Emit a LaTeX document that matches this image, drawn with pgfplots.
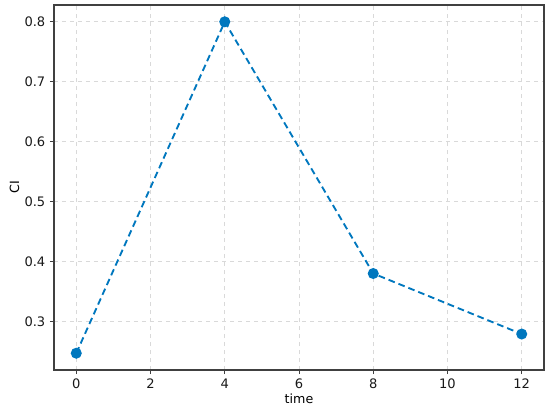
\documentclass[border=0pt]{standalone}
\usepackage{fontspec}
\setmainfont{DejaVu Sans}
\usepackage{pgfplots}
\pgfplotsset{compat=1.18}
\definecolor{lineblue}{RGB}{0,119,190}
\begin{document}
\begin{tikzpicture}
\begin{axis}[
  scale only axis,
  width=367.5pt, height=273.75pt,
  xmin=-0.6, xmax=12.6,
  ymin=0.219, ymax=0.828,
  xtick={0,2,...,12},
  ytick={0.3,0.4,...,0.8},
  yticklabel style={/pgf/number format/.cd,fixed,fixed zerofill,precision=1},
  /pgf/number format/assume math mode=true,
  tick label style={font=\fontsize{9.8}{11}\selectfont, text=black!90},
  label style={font=\fontsize{9.5}{11}\selectfont},
  xlabel={time}, ylabel={CI},
  xlabel style={yshift=3pt},
  ylabel style={yshift=-3pt},
  tick align=outside, tick pos=left,
  major tick length=3pt,
  axis line style={black!75, line width=0.9pt},
  every tick/.style={black!75, line width=0.7pt},
  grid=major,
  major grid style={black!15, dashed, line width=0.5pt},
  clip=false,
]
\addplot[lineblue, line width=1.4pt, dash pattern=on 5pt off 3pt,
  mark=*, mark size=3.4pt, mark options={solid, fill=lineblue, draw=lineblue}]
  coordinates {(0,0.247) (4,0.800) (8,0.380) (12,0.279)};
\end{axis}
\path (current axis.south west) ++(-40.5pt,-33.75pt) coordinate (bl);
\path (current axis.north east) ++(4.5pt,3.75pt) coordinate (tr);
\useasboundingbox (bl) rectangle (tr);
\end{tikzpicture}
\end{document}
